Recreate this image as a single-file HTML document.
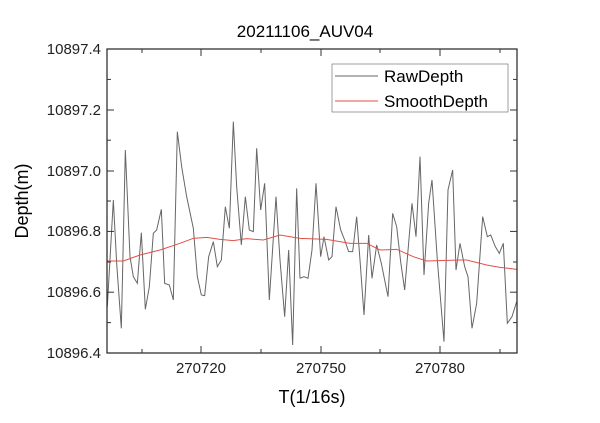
<!DOCTYPE html>
<html><head><style>body{margin:0;background:#fff}svg{display:block}</style></head><body>
<svg width="600" height="423" xmlns="http://www.w3.org/2000/svg" font-family="Liberation Sans, sans-serif">
<rect width="600" height="423" fill="#fff"/>
<text x="305" y="37" font-size="17" text-anchor="middle">20211106_AUV04</text>
<g fill="none" stroke-width="1">
<g transform="translate(0,30) scale(0.33333)">
<polyline vector-effect="non-scaling-stroke" stroke="#666" points="322,830 340,510 350,700 364,895 376,360 390,680 400,740 412,760 424,608 436,838 448,770 460,610 470,600 484,538 494,760 508,765 520,810 532,305 545,410 560,500 580,595 592,740 604,795 614,797 626,680 640,635 652,710 664,690 676,530 688,595 700,275 710,470 724,645 736,500 748,600 760,605 770,355 782,540 794,460 808,810 828,500 840,690 854,860 866,660 878,945 890,475 900,745"/>
<polyline vector-effect="non-scaling-stroke" stroke="#e0504a" points="322,693 370,693 420,675 480,660 540,640 580,625 620,622 660,628 700,632 740,626 790,630 840,615 900,625"/>
</g>
<g transform="translate(300,30) scale(0.33333)">
<polyline vector-effect="non-scaling-stroke" stroke="#666" points="0,745 12,740 24,745 36,660 48,460 62,680 72,620 86,690 96,680 108,530 122,600 134,630 146,665 158,665 170,560 180,690 192,855 206,615 216,745 230,645 244,700 264,800 278,550 290,590 302,695 314,780 336,520 348,620 360,380 372,735 386,520 396,450 412,690 432,935 444,480 458,420 468,720 480,640 494,710 504,740 516,895 530,820 548,560 562,620 572,615 586,650 598,670 610,640 622,880 636,860 650,815"/>
<polyline vector-effect="non-scaling-stroke" stroke="#e0504a" points="0,625 80,628 150,640 200,640 240,660 290,658 340,680 380,693 480,690 500,690 560,705 600,712 650,718"/>
</g>
</g>
<rect x="107" y="49" width="410" height="304" fill="none" stroke="#333" stroke-width="1.3"/>
<g stroke="#333" stroke-width="1">
<line x1="142" y1="353" x2="142" y2="349"/><line x1="201" y1="353" x2="201" y2="346"/><line x1="261" y1="353" x2="261" y2="349"/><line x1="321" y1="353" x2="321" y2="346"/><line x1="380" y1="353" x2="380" y2="349"/><line x1="440" y1="353" x2="440" y2="346"/><line x1="500" y1="353" x2="500" y2="349"/>
<line x1="142" y1="49" x2="142" y2="53"/><line x1="201" y1="49" x2="201" y2="56"/><line x1="261" y1="49" x2="261" y2="53"/><line x1="321" y1="49" x2="321" y2="56"/><line x1="380" y1="49" x2="380" y2="53"/><line x1="440" y1="49" x2="440" y2="56"/><line x1="500" y1="49" x2="500" y2="53"/>
<line x1="107" y1="79.4" x2="111" y2="79.4"/><line x1="107" y1="110" x2="114" y2="110"/><line x1="107" y1="140.2" x2="111" y2="140.2"/><line x1="107" y1="171" x2="114" y2="171"/><line x1="107" y1="201" x2="111" y2="201"/><line x1="107" y1="231.4" x2="114" y2="231.4"/><line x1="107" y1="262" x2="111" y2="262"/><line x1="107" y1="292.2" x2="114" y2="292.2"/><line x1="107" y1="322.6" x2="111" y2="322.6"/>
<line x1="517" y1="79.4" x2="513" y2="79.4"/><line x1="517" y1="110" x2="510" y2="110"/><line x1="517" y1="140.2" x2="513" y2="140.2"/><line x1="517" y1="171" x2="510" y2="171"/><line x1="517" y1="201" x2="513" y2="201"/><line x1="517" y1="231.4" x2="510" y2="231.4"/><line x1="517" y1="262" x2="513" y2="262"/><line x1="517" y1="292.2" x2="510" y2="292.2"/><line x1="517" y1="322.6" x2="513" y2="322.6"/>
</g>
<g font-size="15" text-anchor="end" fill="#222">
<text x="101" y="54">10897.4</text><text x="101" y="115">10897.2</text><text x="101" y="176">10897.0</text><text x="101" y="236">10896.8</text><text x="101" y="297">10896.6</text><text x="101" y="358">10896.4</text>
</g>
<g font-size="15" text-anchor="middle" fill="#222">
<text x="201" y="373">270720</text><text x="321" y="373">270750</text><text x="440" y="373">270780</text>
</g>
<text x="312" y="403" font-size="18" text-anchor="middle">T(1/16s)</text>
<text transform="translate(28,201) rotate(-90)" font-size="18" text-anchor="middle">Depth(m)</text>
<rect x="332" y="64" width="176" height="48" fill="#fff" stroke="#888" stroke-width="0.8"/>
<line x1="335" y1="76" x2="378" y2="76" stroke="#666"/>
<line x1="335" y1="101" x2="378" y2="101" stroke="#e0504a"/>
<text x="384" y="82" font-size="17">RawDepth</text>
<text x="384" y="107" font-size="17">SmoothDepth</text>
</svg>
</body></html>
